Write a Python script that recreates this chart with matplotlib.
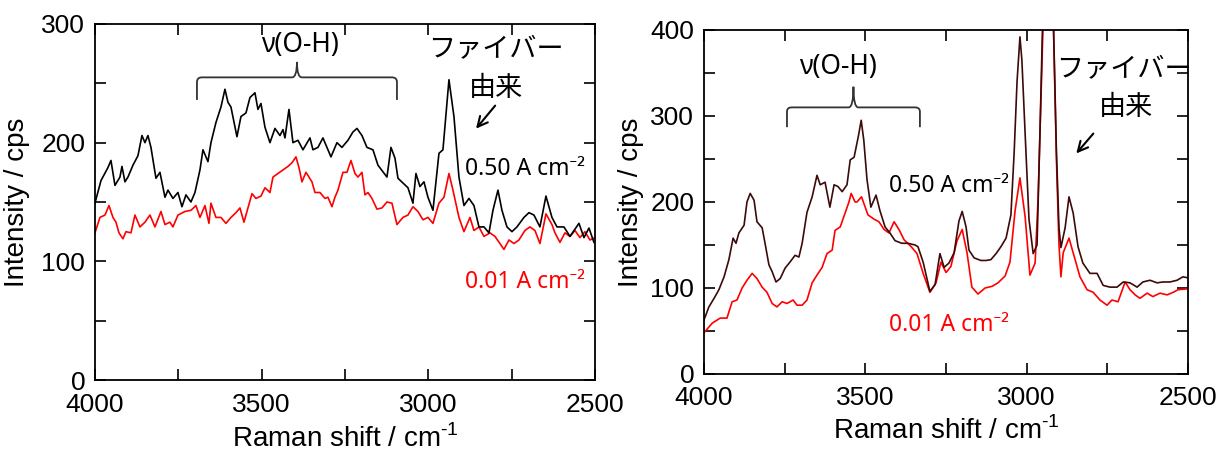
import matplotlib
matplotlib.use("Agg")
import matplotlib.pyplot as plt
from matplotlib.path import Path
from matplotlib.patches import PathPatch
from matplotlib.ticker import MultipleLocator

# ---- left panel: spectra (wavenumber / cm-1, intensity / cps) ----
left_hi_w = [4000, 3982, 3961, 3952, 3940, 3925, 3919, 3910, 3901, 3886, 3871, 3859, 3850, 3841,
             3832, 3817, 3805, 3790, 3781, 3766, 3751, 3739, 3727, 3712, 3700, 3685, 3676, 3661,
             3652, 3637, 3622, 3610, 3601, 3592, 3574, 3562, 3547, 3535, 3520, 3511, 3502, 3490,
             3475, 3460, 3445, 3436, 3430, 3418, 3406, 3391, 3376, 3355, 3346, 3331, 3316, 3292,
             3274, 3259, 3241, 3226, 3214, 3199, 3184, 3166, 3151, 3124, 3112, 3100, 3091, 3076,
             3061, 3046, 3037, 3025, 3013, 3001, 2986, 2968, 2956, 2938, 2923, 2908, 2893, 2878,
             2863, 2848, 2833, 2818, 2806, 2791, 2779, 2764, 2749, 2734, 2713, 2698, 2683, 2665,
             2647, 2629, 2614, 2593, 2575, 2548, 2533, 2518, 2503]
left_hi_i = [149, 168, 179, 185, 164, 171, 180, 167, 171, 181, 189, 206, 200, 206,
             196, 170, 175, 154, 160, 153, 158, 146, 156, 150, 158, 177, 194, 184,
             200, 217, 230, 245, 234, 230, 205, 222, 225, 238, 242, 228, 233, 213,
             200, 212, 206, 211, 204, 228, 200, 202, 194, 204, 194, 196, 204, 188,
             200, 196, 202, 209, 212, 206, 196, 194, 181, 171, 196, 187, 170, 166,
             162, 149, 174, 163, 167, 154, 143, 191, 194, 253, 222, 171, 147, 153,
             147, 129, 129, 124, 143, 160, 143, 129, 125, 129, 137, 141, 139, 129,
             155, 137, 129, 129, 121, 132, 120, 128, 116]

left_lo_w = [4000, 3985, 3970, 3958, 3946, 3937, 3928, 3916, 3907, 3892, 3880, 3865, 3850, 3835,
             3820, 3802, 3790, 3775, 3766, 3751, 3730, 3712, 3697, 3685, 3670, 3658, 3652, 3637,
             3622, 3607, 3592, 3577, 3565, 3553, 3541, 3529, 3517, 3502, 3490, 3475, 3466, 3451,
             3436, 3421, 3409, 3397, 3388, 3379, 3367, 3349, 3340, 3325, 3310, 3301, 3289, 3280,
             3271, 3256, 3244, 3232, 3220, 3211, 3199, 3190, 3181, 3169, 3154, 3139, 3124, 3109,
             3094, 3076, 3061, 3046, 3031, 3016, 3001, 2986, 2968, 2953, 2938, 2926, 2908, 2893,
             2875, 2863, 2848, 2833, 2815, 2800, 2785, 2773, 2758, 2743, 2728, 2710, 2695, 2680,
             2665, 2647, 2629, 2620, 2605, 2590, 2575, 2560, 2545, 2530, 2515, 2500]
left_lo_i = [124, 137, 139, 147, 137, 133, 124, 119, 125, 124, 139, 129, 133, 139,
             129, 142, 131, 133, 129, 139, 142, 143, 147, 137, 147, 132, 149, 137,
             137, 132, 137, 141, 145, 133, 145, 157, 153, 155, 162, 158, 171, 174,
             177, 180, 183, 188, 179, 167, 175, 167, 158, 158, 153, 154, 146, 154,
             160, 175, 175, 185, 174, 171, 175, 156, 158, 153, 144, 145, 150, 149,
             131, 137, 139, 146, 142, 135, 137, 132, 149, 154, 174, 160, 137, 125,
             137, 126, 129, 121, 124, 121, 115, 110, 118, 115, 118, 126, 129, 126,
             115, 140, 131, 124, 116, 124, 121, 126, 120, 125, 118, 120]

# ---- right panel ----
right_hi_w = [4000, 3985, 3969, 3954, 3938, 3923, 3910, 3901, 3892, 3876, 3867, 3857, 3845, 3836,
              3820, 3811, 3799, 3789, 3777, 3764, 3749, 3734, 3718, 3706, 3696, 3681, 3665, 3650,
              3640, 3625, 3610, 3597, 3585, 3572, 3557, 3547, 3535, 3522, 3513, 3505, 3495, 3483,
              3467, 3455, 3439, 3424, 3408, 3387, 3368, 3346, 3337, 3321, 3300, 3284, 3269, 3256,
              3241, 3225, 3210, 3200, 3188, 3179, 3163, 3142, 3126, 3111, 3095, 3080, 3064, 3049,
              3039, 3030, 3021, 3015, 3005, 2993, 2980, 2968, 2959, 2950, 2935, 2918, 2908, 2900,
              2894, 2881, 2869, 2856, 2841, 2826, 2804, 2782, 2763, 2742, 2720, 2701, 2680, 2658,
              2640, 2618, 2596, 2578, 2556, 2534, 2516, 2503]
right_hi_i = [63, 78, 88, 98, 113, 133, 158, 152, 164, 173, 200, 210, 202, 177,
              170, 152, 127, 119, 107, 111, 123, 130, 138, 136, 152, 188, 206, 231,
              220, 223, 194, 220, 218, 212, 220, 249, 252, 276, 295, 272, 226, 194,
              208, 190, 171, 164, 155, 152, 152, 150, 148, 130, 96, 104, 140, 124,
              129, 141, 178, 189, 171, 144, 135, 132, 132, 133, 140, 148, 158, 185,
              257, 340, 392, 365, 280, 180, 140, 150, 280, 420, 700, 420, 260, 170,
              147, 170, 206, 187, 148, 129, 117, 117, 103, 101, 101, 107, 106, 101,
              107, 109, 106, 107, 107, 109, 113, 112]

right_lo_w = [4000, 3975, 3950, 3929, 3913, 3898, 3882, 3867, 3851, 3836, 3820, 3805, 3789, 3774,
              3758, 3743, 3724, 3712, 3696, 3681, 3665, 3650, 3634, 3619, 3603, 3594, 3578, 3563,
              3551, 3544, 3532, 3526, 3512, 3492, 3473, 3458, 3442, 3427, 3411, 3396, 3380, 3358,
              3340, 3321, 3300, 3281, 3266, 3250, 3235, 3216, 3200, 3185, 3170, 3151, 3129, 3107,
              3089, 3067, 3052, 3036, 3021, 3005, 2990, 2974, 2965, 2953, 2945, 2935, 2918, 2908,
              2900, 2894, 2887, 2869, 2850, 2835, 2813, 2794, 2773, 2751, 2736, 2717, 2695, 2680,
              2664, 2649, 2627, 2609, 2587, 2565, 2546, 2531, 2503]
right_lo_i = [48, 59, 65, 65, 84, 86, 100, 109, 117, 111, 101, 95, 82, 78,
              84, 82, 86, 80, 80, 86, 106, 115, 124, 140, 144, 167, 171, 187,
              200, 210, 200, 200, 206, 185, 180, 177, 168, 164, 177, 168, 156, 148,
              140, 117, 95, 106, 130, 118, 125, 155, 168, 141, 101, 93, 100, 102,
              106, 114, 130, 190, 228, 183, 115, 129, 202, 357, 470, 650, 420, 250,
              150, 113, 141, 158, 133, 113, 98, 95, 86, 80, 86, 84, 107, 98,
              92, 88, 94, 90, 94, 92, 95, 98, 99]

label_hi = "0.50 A cm⁻²"
label_lo = "0.01 A cm⁻²"
oh_label = "ν(O-H)"
fiber_top = "ファイバー"
fiber_bottom = "由来"

plt.rcParams['font.family'] = ['Liberation Sans', 'DejaVu Sans']
plt.rcParams['mathtext.fontset'] = 'custom'
plt.rcParams['mathtext.rm'] = 'Liberation Sans'

ann_font = ['Noto Sans', 'DejaVu Sans']
jp_font = ['Noto Sans CJK JP', 'DejaVu Sans']


def brace(ax, x0, x1, y, y_low, y_top, rx, ry):
    xc = (x0 + x1) / 2
    verts = [(x0, y_low), (x0, y - ry), (x0, y), (x0 - rx, y),
             (xc + rx, y), (xc, y), (xc, y_top),
             (xc, y), (xc - rx, y),
             (x1 + rx, y), (x1, y), (x1, y - ry), (x1, y_low)]
    codes = [Path.MOVETO, Path.LINETO, Path.CURVE3, Path.CURVE3,
             Path.LINETO, Path.CURVE3, Path.CURVE3,
             Path.CURVE3, Path.CURVE3,
             Path.LINETO, Path.CURVE3, Path.CURVE3, Path.LINETO]
    ax.add_patch(PathPatch(Path(verts, codes), fill=False, lw=1.3, ec='#333333'))


def style_axes(ax, ymax):
    ax.set_xlim(4000, 2500)
    ax.set_ylim(0, ymax)
    ax.xaxis.set_major_locator(MultipleLocator(500))
    ax.xaxis.set_minor_locator(MultipleLocator(250))
    ax.yaxis.set_major_locator(MultipleLocator(100))
    ax.yaxis.set_minor_locator(MultipleLocator(50))
    ax.tick_params(which='both', direction='in', top=True, right=True, width=1.2)
    ax.tick_params(which='major', length=8, labelsize=19)
    ax.tick_params(which='minor', length=8)
    ax.tick_params(axis='x', which='major', pad=9)
    ax.tick_params(axis='y', which='major', pad=7)
    for sp in ax.spines.values():
        sp.set_linewidth(1.3)
    ax.set_xlabel('Raman shift / cm$^{\\mathregular{\\text{-}1}}$', fontsize=20)
    ax.set_ylabel('Intensity / cps', fontsize=20)


fig = plt.figure(figsize=(12.3, 4.53), dpi=100)

# Left panel
ax1 = fig.add_axes([0.0772, 0.1611, 0.4065, 0.786])
ax1.plot(left_lo_w, left_lo_i, color='#ff0000', lw=1.2)
ax1.plot(left_hi_w, left_hi_i, color='black', lw=1.2)
style_axes(ax1, 300)
ax1.xaxis.set_label_coords(0.5, -0.125)
ax1.yaxis.set_label_coords(-0.13, 0.5)
brace(ax1, 3694, 3094, 255, 236, 268, 15, 4)
ax1.text(3385, 282, oh_label, family=ann_font, fontsize=19, ha='center', va='center')
ax1.text(2797, 279, fiber_top, family=jp_font, fontsize=19.5, ha='center', va='center')
ax1.text(2797, 246, fiber_bottom, family=jp_font, fontsize=19.5, ha='center', va='center')
ax1.annotate('', xy=(2862, 210), xytext=(2794, 233),
             arrowprops=dict(arrowstyle='->', lw=1.5, color='black', mutation_scale=18))
ax1.text(2710, 178, label_hi, family=ann_font, fontsize=16.5, ha='center', va='center')
ax1.text(2710, 83, label_lo, family=ann_font, fontsize=16.5, ha='center', va='center',
         color='#ff0000')

# Right panel
ax2 = fig.add_axes([0.5724, 0.1744, 0.3935, 0.7594])
ax2.plot(right_lo_w, right_lo_i, color='#ff0000', lw=1.2)
ax2.plot(right_hi_w, right_hi_i, color='#3c0a0a', lw=1.2)
style_axes(ax2, 400)
ax2.xaxis.set_label_coords(0.5, -0.125)
ax2.yaxis.set_label_coords(-0.124, 0.5)
brace(ax2, 3743, 3331, 310, 287, 334, 15, 5)
ax2.text(3585, 357, oh_label, family=ann_font, fontsize=19, ha='center', va='center')
ax2.text(2698, 355, fiber_top, family=jp_font, fontsize=19.5, ha='center', va='center')
ax2.text(2692, 310, fiber_bottom, family=jp_font, fontsize=19.5, ha='center', va='center')
ax2.annotate('', xy=(2852, 254), xytext=(2788, 282),
             arrowprops=dict(arrowstyle='->', lw=1.5, color='black', mutation_scale=18))
ax2.text(3241, 219, label_hi, family=ann_font, fontsize=16.5, ha='center', va='center')
ax2.text(3241, 57, label_lo, family=ann_font, fontsize=16.5, ha='center', va='center',
         color='#ff0000')

fig.savefig('out.png', dpi=100)
